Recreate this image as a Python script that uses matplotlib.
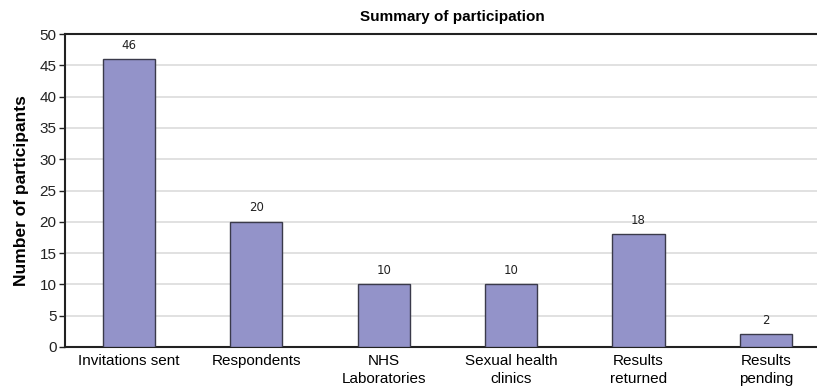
import matplotlib.pyplot as plt

categories = ["Invitations sent", "Respondents", "NHS\nLaboratories",
              "Sexual health\nclinics", "Results\nreturned", "Results\npending"]
counts = [46, 20, 10, 10, 18, 2]

plt.rcParams['font.family'] = ['Liberation Sans', 'DejaVu Sans']

fig = plt.figure(figsize=(8.17, 3.92), dpi=100)
ax = fig.add_axes([65 / 817, 45 / 392, 1 - 65 / 817, 313 / 392])

x = range(len(categories))
ax.bar(x, counts, width=0.41, color='#9393c9', edgecolor='#3a3a4a', linewidth=1.0, zorder=3)

for xi, v in zip(x, counts):
    ax.text(xi, v + 1.2, str(v), ha='center', va='bottom', fontsize=8.5,
            family='DejaVu Sans', color='#222222')

ax.set_xlim(-0.5, 5.4)
ax.set_ylim(0, 50)
ax.set_yticks(range(0, 51, 5))
ax.tick_params(axis='y', labelsize=11, length=4, width=1, colors='#222222', pad=2)
ax.set_xticks(list(x))
ax.set_xticklabels(categories, fontsize=11, linespacing=1.35)
ax.tick_params(axis='x', length=0, pad=5)

ax.yaxis.grid(True, color='#dcdcdc', linewidth=1.2, zorder=0)
ax.set_axisbelow(True)

for side in ['left', 'bottom', 'top']:
    ax.spines[side].set_color('#222222')
    ax.spines[side].set_linewidth(1.5)
ax.spines['right'].set_visible(False)

ax.set_ylabel("Number of participants", fontsize=12.5, fontweight='bold', labelpad=8)
fig.text(452 / 817, 1 - 17 / 392, "Summary of participation", ha='center', va='center',
         fontsize=11, fontweight='bold')

fig.savefig('out.png', dpi=100)
